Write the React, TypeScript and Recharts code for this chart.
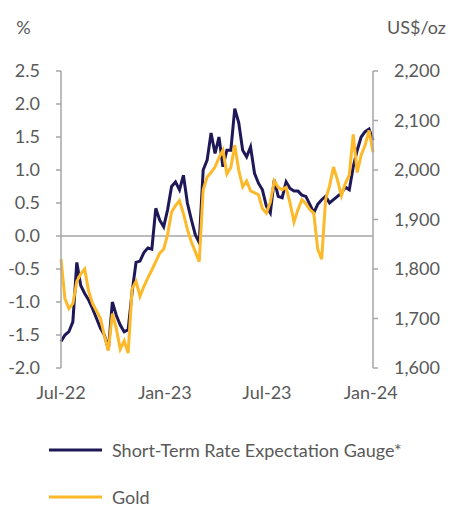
import { Legend, Line, LineChart, ReferenceLine, XAxis, YAxis } from "recharts";

// weekly observations, first one on 1 Jul 2022
const weeks = 80;
const rateGauge = [
    -1.6, -1.5, -1.45, -1.3, -0.4, -0.75, -0.87, -0.97, -1.1, -1.25,
    -1.4, -1.5, -1.72, -1.0, -1.2, -1.35, -1.45, -1.42, -0.85, -0.4,
    -0.38, -0.25, -0.18, -0.2, 0.42, 0.24, 0.14, 0.4, 0.75, 0.82,
    0.7, 0.92, 0.5, 0.25, 0.02, -0.1, 1.0, 1.15, 1.56, 1.25,
    1.5, 1.05, 1.3, 1.3, 1.93, 1.72, 1.3, 1.2, 1.35, 0.95,
    0.8, 0.7, 0.45, 0.35, 0.85, 0.6, 0.58, 0.82, 0.72, 0.68,
    0.68, 0.62, 0.6, 0.48, 0.35, 0.48, 0.55, 0.6, 0.5, 0.55,
    0.6, 0.65, 0.74, 0.7, 1.05, 1.3, 1.5, 1.58, 1.62, 1.45
];
const gold = [
    1820, 1740, 1720, 1730, 1775, 1790, 1800, 1755, 1730, 1715,
    1700, 1665, 1635, 1710, 1680, 1638, 1655, 1630, 1760, 1775,
    1745, 1765, 1782, 1798, 1815, 1832, 1840, 1870, 1915, 1928,
    1938, 1912, 1880, 1855, 1835, 1815, 1960, 1986, 1995, 2006,
    2025, 2040, 1992, 2005, 2050, 2000, 1966, 1978, 1958, 1954,
    1950, 1922, 1913, 1935, 1978, 1965, 1960, 1965, 1933, 1895,
    1920, 1940, 1932, 1920, 1913, 1840, 1820, 1940, 1968, 2006,
    1980, 1948, 1973, 1990, 2072, 1995, 2030, 2050, 2080, 2036
];

const seriesNames = ["Short-Term Rate Expectation Gauge*", "Gold"];

// days since 1 Jul 2022
const xTicks = [0, 184, 365, 549];
const xTickLabels = ["Jul-22", "Jan-23", "Jul-23", "Jan-24"];
const leftTicks = [-2, -1.5, -1, -0.5, 0, 0.5, 1, 1.5, 2, 2.5];
const rightTicks = [1600, 1700, 1800, 1900, 2000, 2100, 2200];

const data = Array.from({ length: weeks }, (_, i) => ({
    day: i * 7,
    rate: rateGauge[i],
    gold: gold[i]
}));

const NAVY = "#1f1858";
const GOLD = "#fdb92a";
const AXIS = "#a6a6a6";
const TEXT = "#595959";
const FONT = "Lato, 'Open Sans', sans-serif";

const tickStyle = { fill: TEXT, fontSize: 18, fontFamily: FONT };

const renderLegend = (props) => {
    const items = [...props.payload].sort(
        (a, b) => seriesNames.indexOf(a.value) - seriesNames.indexOf(b.value)
    );
    return (
        <div style={{ position: "relative", height: 115, width: 446, fontFamily: FONT }}>
            {items.map((entry, i) => (
                <div
                    key={entry.value}
                    style={{
                        position: "absolute",
                        left: 41,
                        top: 38 + i * 47,
                        height: 28,
                        display: "flex",
                        alignItems: "center",
                        color: TEXT,
                        fontSize: 18,
                        whiteSpace: "nowrap"
                    }}
                >
                    <svg width={53} height={4} style={{ marginRight: 10 }}>
                        <line x1={0} y1={2} x2={53} y2={2} stroke={entry.color} strokeWidth={3} />
                    </svg>
                    {entry.value}
                </div>
            ))}
        </div>
    );
};

export default function App() {
    return (
        <LineChart width={446} height={505} data={data} margin={{ top: 63, right: 0, bottom: 0, left: 0 }}>
            <XAxis
                dataKey="day"
                type="number"
                domain={[0, 553]}
                ticks={xTicks}
                tickFormatter={(v) => xTickLabels[xTicks.indexOf(v)]}
                axisLine={false}
                tickLine={false}
                tick={tickStyle}
                tickMargin={12}
                height={30}
                interval={0}
            />
            <YAxis
                yAxisId="left"
                domain={[-2, 2.5]}
                ticks={leftTicks}
                tickFormatter={(v) => v.toFixed(1)}
                width={53}
                stroke={AXIS}
                strokeWidth={1.5}
                tickSize={5}
                tickMargin={16}
                tick={tickStyle}
                interval={0}
                label={{ value: "%", position: "top", offset: 37, dx: -11, style: tickStyle }}
            />
            <YAxis
                yAxisId="right"
                orientation="right"
                domain={[1600, 2200]}
                ticks={rightTicks}
                tickFormatter={(v) => v.toLocaleString("en-US")}
                width={81}
                stroke={AXIS}
                strokeWidth={1.5}
                tickSize={5}
                tickMargin={16}
                tick={{ ...tickStyle, textAnchor: "start" }}
                interval={0}
                label={{ value: "US$/oz", position: "top", offset: 37, dx: 3, style: tickStyle }}
            />
            <ReferenceLine yAxisId="left" y={0} stroke={AXIS} strokeWidth={1.5} />
            <Legend verticalAlign="bottom" content={renderLegend} wrapperStyle={{ left: 0, width: 446 }} />
            <Line
                yAxisId="left"
                dataKey="rate"
                name={seriesNames[0]}
                stroke={NAVY}
                strokeWidth={3}
                dot={false}
                type="linear"
                isAnimationActive={false}
            />
            <Line
                yAxisId="right"
                dataKey="gold"
                name={seriesNames[1]}
                stroke={GOLD}
                strokeWidth={3}
                dot={false}
                type="linear"
                isAnimationActive={false}
            />
        </LineChart>
    );
}
